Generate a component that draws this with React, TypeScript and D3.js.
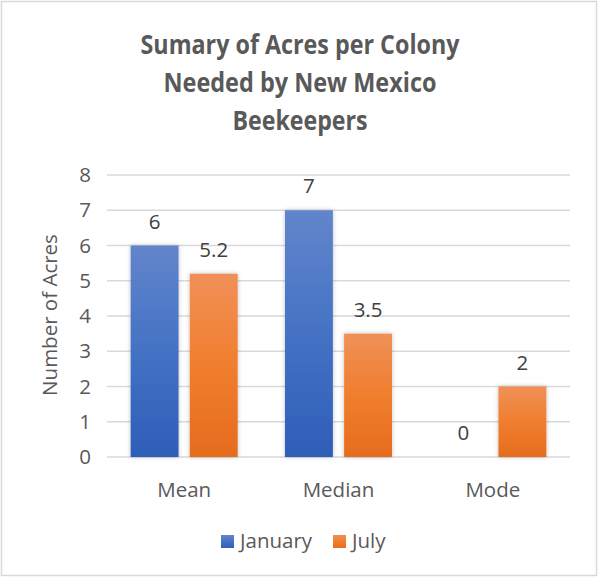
import { max, scaleBand, scaleLinear } from "d3";
import React from "react";

const categories = ["Mean", "Median", "Mode"];
const seriesNames = ["January", "July"];
const january = [6, 7, 0];
const july = [5.2, 3.5, 2];
const yTicks = [0, 1, 2, 3, 4, 5, 6, 7, 8];
const titleLines = ["Sumary of Acres per Colony", "Needed by New Mexico", "Beekeepers"];
const titleWidths = [319, 273, 135];

const W = 598;
const H = 577;
const plot = { left: 107, right: 570, top: 175, bottom: 457 };
const font = "'Open Sans', sans-serif";
const fs = 20.5;

const App: React.FC = () => {
  const x = scaleBand<string>().domain(categories).range([plot.left, plot.right]);
  const y = scaleLinear()
    .domain([0, max(yTicks) as number])
    .range([plot.bottom, plot.top]);
  const inner = scaleBand<string>()
    .domain(seriesNames)
    .range([0, x.bandwidth()])
    .paddingInner(0.19)
    .paddingOuter(0.4);
  const series = [january, july];
  const grads = ["gBlue", "gOrange"];

  return (
    <svg width={W} height={H} style={{ position: "absolute", left: 0, top: 0 }}>
      <defs>
        <linearGradient id="gBlue" x1="0" y1="0" x2="0" y2="1">
          <stop offset="0" stopColor="#6285CC" />
          <stop offset="0.5" stopColor="#4472C4" />
          <stop offset="1" stopColor="#2E5EB8" />
        </linearGradient>
        <linearGradient id="gOrange" x1="0" y1="0" x2="0" y2="1">
          <stop offset="0" stopColor="#F09058" />
          <stop offset="0.5" stopColor="#F07E2E" />
          <stop offset="1" stopColor="#E56C1E" />
        </linearGradient>
        <filter id="shadow" x="-20%" y="-10%" width="140%" height="120%">
          <feDropShadow dx="0" dy="0" stdDeviation="2" floodColor="#000" floodOpacity="0.25" />
        </filter>
      </defs>
      <rect x={1.5} y={1.5} width={W - 3} height={H - 3} fill="#fff" stroke="#d9d9d9" strokeWidth={1.5} />

      {titleLines.map((t, i) => (
        <text
          key={t}
          x={300 - titleWidths[i] / 2}
          y={54 + i * 38}
          textLength={titleWidths[i]}
          lengthAdjust="spacingAndGlyphs"
          fontFamily={font}
          fontWeight="bold"
          fontSize={26.5}
          fill="#595959"
        >
          {t}
        </text>
      ))}

      {yTicks.map((t) => (
        <g key={t}>
          <line x1={plot.left} x2={plot.right} y1={y(t)} y2={y(t)} stroke="#d9d9d9" strokeWidth={1.5} />
          <text x={91} y={y(t) + 7} textAnchor="end" fontFamily={font} fontSize={fs} fill="#595959">
            {t}
          </text>
        </g>
      ))}

      <text
        transform={`translate(57,${(plot.top + plot.bottom) / 2 - 1}) rotate(-90)`}
        textAnchor="middle"
        fontFamily={font}
        fontSize={fs}
        fill="#595959"
      >
        Number of Acres
      </text>

      {categories.map((c, ci) => (
        <g key={c}>
          {seriesNames.map((s, si) => {
            const v = series[si][ci];
            const bx = (x(c) as number) + (inner(s) as number);
            const bw = inner.bandwidth();
            return (
              <g key={s}>
                {v > 0 && (
                  <rect
                    x={bx}
                    y={y(v)}
                    width={bw}
                    height={y(0) - y(v)}
                    fill={`url(#${grads[si]})`}
                    filter="url(#shadow)"
                  />
                )}
                <text x={bx + bw / 2} y={y(v) - 17} textAnchor="middle" fontFamily={font} fontSize={fs} fill="#404040">
                  {v}
                </text>
              </g>
            );
          })}
          <text
            x={(x(c) as number) + x.bandwidth() / 2}
            y={497}
            textAnchor="middle"
            fontFamily={font}
            fontSize={fs}
            fill="#595959"
          >
            {c}
          </text>
        </g>
      ))}

      {seriesNames.map((s, i) => {
        const lx = [221, 333][i];
        return (
          <g key={s}>
            <rect x={lx} y={535} width={13} height={13} fill={`url(#${grads[i]})`} />
            <text x={lx + 19} y={548} fontFamily={font} fontSize={fs} fill="#595959">
              {s}
            </text>
          </g>
        );
      })}
    </svg>
  );
};

export default App;
